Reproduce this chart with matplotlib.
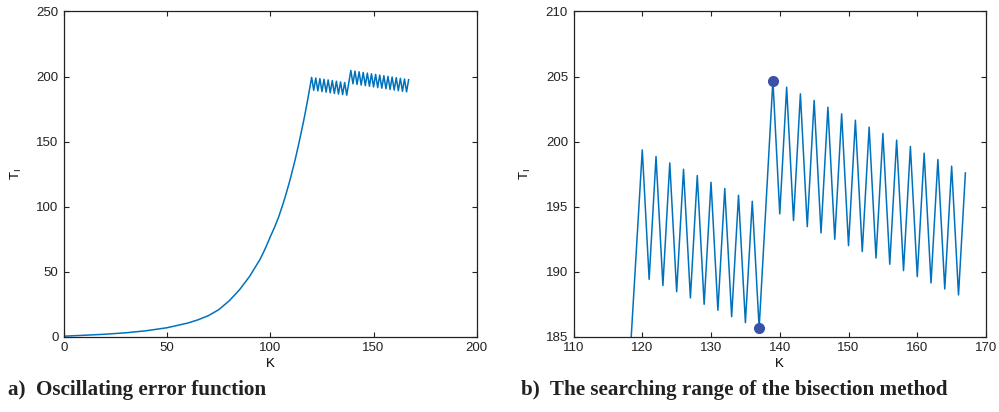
"""
Two panels of the error function T_I(K): full range (a) and a zoom on the
oscillating part with the two bisection end points marked (b).
"""

import matplotlib

matplotlib.use("Agg")
import matplotlib.pyplot as plt

# smooth rising part, read off panel a)
k_smooth = [0, 10, 20, 30, 40, 50, 60, 65, 70, 75, 80, 85, 90, 95, 96, 97,
            98, 99, 100, 101, 102, 103, 104, 105, 106, 107, 108, 109, 110,
            111, 112, 113, 114, 115, 116, 117, 118, 119]
t_smooth = [0.4, 1.1, 1.9, 3.0, 4.6, 6.9, 10.5, 13.0, 16.2, 20.8, 27.5, 36.0,
            46.5, 59.5, 62.7, 66.0, 69.5, 73.2, 77.0, 80.5, 84.0, 88.0, 92.0,
            96.7, 101.5, 106.6, 112.0, 117.6, 123.5, 129.7, 136.0, 143.0,
            150.0, 157.5, 165.0, 173.0, 181.5, 190.4]
# oscillating part K = 120..167, read off panel b)
k_osc = list(range(120, 168))
t_osc = [199.36, 189.41, 198.85, 188.93, 198.36, 188.46, 197.87, 187.98,
         197.39, 187.49, 196.87, 187.03, 196.39, 186.54, 195.87, 186.08,
         195.41, 185.67, 195.2, 204.69, 194.44, 204.18, 193.93, 203.67,
         193.46, 203.16, 192.98, 202.64, 192.49, 202.13, 192.00, 201.64,
         191.54, 201.11, 191.05, 200.62, 190.57, 200.11, 190.08, 199.62,
         189.62, 199.11, 189.13, 198.62, 188.67, 198.11, 188.21, 197.59]
# bisection end points
k_marks = [137, 139]
t_marks = [185.67, 204.69]

k_all = k_smooth + k_osc
t_all = t_smooth + t_osc

LINE = "#0072BD"
DOT = "#3A52A6"

plt.rcParams["font.family"] = ["Liberation Sans", "DejaVu Sans"]
plt.rcParams["font.size"] = 9.5

fig = plt.figure(figsize=(9.99, 4.12), dpi=100)
ax_a = fig.add_axes([0.0641, 0.1828, 0.4131, 0.7893])
ax_b = fig.add_axes([0.5741, 0.1828, 0.4129, 0.7893])

ax_a.plot(k_all, t_all, color=LINE, linewidth=1.1)
ax_a.set_xlim(0, 200)
ax_a.set_ylim(0, 250)
ax_a.set_xticks([0, 50, 100, 150, 200])
ax_a.set_yticks([0, 50, 100, 150, 200, 250])

ax_b.plot(k_all, t_all, color=LINE, linewidth=1.1)
ax_b.plot(k_marks, t_marks, "o", color=DOT, markersize=7, clip_on=False)
ax_b.set_xlim(110, 170)
ax_b.set_ylim(185, 210)
ax_b.set_xticks(range(110, 171, 10))
ax_b.set_yticks(range(185, 211, 5))

for ax in (ax_a, ax_b):
    ax.tick_params(direction="in", length=3.5, width=0.8, top=True, right=True,
                   colors="#222222", labelcolor="#222222", pad=4)
    for spine in ax.spines.values():
        spine.set_linewidth(0.9)
        spine.set_color("#222222")
    ax.set_xlabel("K", labelpad=3)
    ax.set_ylabel(r"$\mathregular{T_I}$", labelpad=9)

fig.text(0.008, 0.041, "a)  Oscillating error function", fontsize=15.2,
         fontweight="bold", family="Liberation Serif", color="#222222",
         va="baseline")
fig.text(0.522, 0.041, "b)  The searching range of the bisection method",
         fontsize=15.2, fontweight="bold", family="Liberation Serif",
         color="#222222", va="baseline")

fig.savefig("out.png", dpi=100)
